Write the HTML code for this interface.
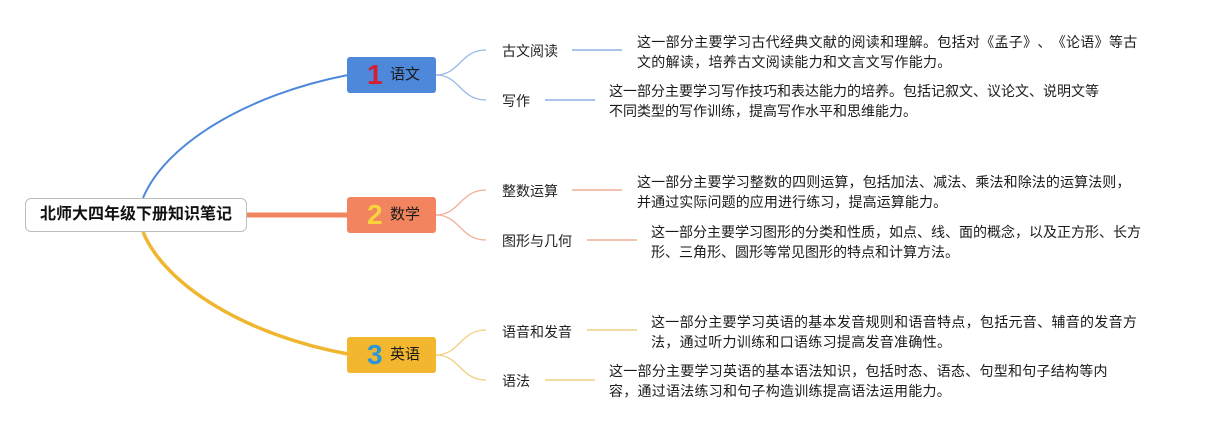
<!DOCTYPE html>
<html>
<head>
<meta charset="utf-8">
<style>
  html,body{margin:0;padding:0;background:#fff;}
  body{width:1211px;height:430px;position:relative;overflow:hidden;
       font-family:"Liberation Sans","Noto Sans CJK SC",sans-serif;color:#1e1e1e;
       text-spacing-trim:space-all;}
  svg{position:absolute;left:0;top:0;}
  .root{position:absolute;left:25px;top:198px;width:220px;height:32px;border:1px solid #bdbdbd;
        border-radius:6px;background:#fff;text-align:center;line-height:32px;font-weight:bold;font-size:16px;color:#111;}
  .main{position:absolute;left:347px;width:89px;height:36px;border-radius:3px;}
  .main .num{position:absolute;left:20px;top:0;line-height:36px;font-family:"Liberation Sans",sans-serif;
        font-weight:bold;font-size:28px;}
  .main .lab{position:absolute;left:43px;top:0;line-height:36px;font-size:15px;color:#1a1a1a;}
  .sub{position:absolute;left:502px;font-size:14px;line-height:20px;white-space:nowrap;color:#222;}
  .desc{position:absolute;font-size:14px;line-height:20px;white-space:nowrap;color:#1a1a1a;
        text-spacing-trim:space-all;}
</style>
</head>
<body>
<svg width="1211" height="430" viewBox="0 0 1211 430">
  <!-- main connectors -->
  <path d="M143,198 C165,145 245,95 348,75" fill="none" stroke="#4d88db" stroke-width="2"/>
  <line x1="246" y1="215" x2="348" y2="215" stroke="#f0855f" stroke-width="5"/>
  <path d="M143,232 C165,285 245,335 348,354" fill="none" stroke="#f0b630" stroke-width="3.5"/>

  <!-- forks 语文 -->
  <path d="M436,75 C460,75 460,50 486,50" fill="none" stroke="#9bb9e4" stroke-width="1.3"/>
  <path d="M436,75 C460,75 460,100 486,100" fill="none" stroke="#9bb9e4" stroke-width="1.3"/>
  <!-- forks 数学 -->
  <path d="M436,215 C460,215 460,190 486,190" fill="none" stroke="#f1b09b" stroke-width="1.3"/>
  <path d="M436,215 C460,215 460,240 486,240" fill="none" stroke="#f1b09b" stroke-width="1.3"/>
  <!-- forks 英语 -->
  <path d="M436,355 C460,355 460,330 486,330" fill="none" stroke="#f2cf82" stroke-width="1.3"/>
  <path d="M436,355 C460,355 460,380 486,380" fill="none" stroke="#f2cf82" stroke-width="1.3"/>

  <!-- leaf connectors -->
  <line x1="572" y1="50" x2="622" y2="50" stroke="#a9c4e8" stroke-width="2"/>
  <line x1="545" y1="100" x2="595" y2="100" stroke="#a9c4e8" stroke-width="2"/>
  <line x1="572" y1="190" x2="622" y2="190" stroke="#f3c1b0" stroke-width="2"/>
  <line x1="587" y1="240" x2="637" y2="240" stroke="#f3c1b0" stroke-width="2"/>
  <line x1="587" y1="330" x2="637" y2="330" stroke="#f3dca2" stroke-width="2"/>
  <line x1="545" y1="380" x2="595" y2="380" stroke="#f3dca2" stroke-width="2"/>
</svg>

<div class="root">北师大四年级下册知识笔记</div>

<div class="main" style="top:57px;background:#4d88db;"><span class="num" style="color:#d41f33;">1</span><span class="lab">语文</span></div>
<div class="main" style="top:197px;background:#f2855f;"><span class="num" style="color:#f7d43c;">2</span><span class="lab">数学</span></div>
<div class="main" style="top:337px;background:#f3b72f;"><span class="num" style="color:#2b97d6;">3</span><span class="lab">英语</span></div>

<div class="sub" style="top:41px;">古文阅读</div>
<div class="sub" style="top:91px;">写作</div>
<div class="sub" style="top:181px;">整数运算</div>
<div class="sub" style="top:231px;">图形与几何</div>
<div class="sub" style="top:322px;">语音和发音</div>
<div class="sub" style="top:371px;">语法</div>

<div class="desc" style="left:637px;top:32px;letter-spacing:0.3px;">这一部分主要学习古代经典文献的阅读和理解。包括对《孟子》、《论语》等古<br>文的解读，培养古文阅读能力和文言文写作能力。</div>
<div class="desc" style="left:609px;top:81px;">这一部分主要学习写作技巧和表达能力的培养。包括记叙文、议论文、说明文等<br>不同类型的写作训练，提高写作水平和思维能力。</div>
<div class="desc" style="left:637px;top:172px;letter-spacing:0.1px;">这一部分主要学习整数的四则运算，包括加法、减法、乘法和除法的运算法则，<br>并通过实际问题的应用进行练习，提高运算能力。</div>
<div class="desc" style="left:651px;top:222px;">这一部分主要学习图形的分类和性质，如点、线、面的概念，以及正方形、长方<br>形、三角形、圆形等常见图形的特点和计算方法。</div>
<div class="desc" style="left:651px;top:312px;letter-spacing:0.3px;">这一部分主要学习英语的基本发音规则和语音特点，包括元音、辅音的发音方<br>法，通过听力训练和口语练习提高发音准确性。</div>
<div class="desc" style="left:609px;top:361px;letter-spacing:0.25px;">这一部分主要学习英语的基本语法知识，包括时态、语态、句型和句子结构等内<br>容，通过语法练习和句子构造训练提高语法运用能力。</div>
</body>
</html>
